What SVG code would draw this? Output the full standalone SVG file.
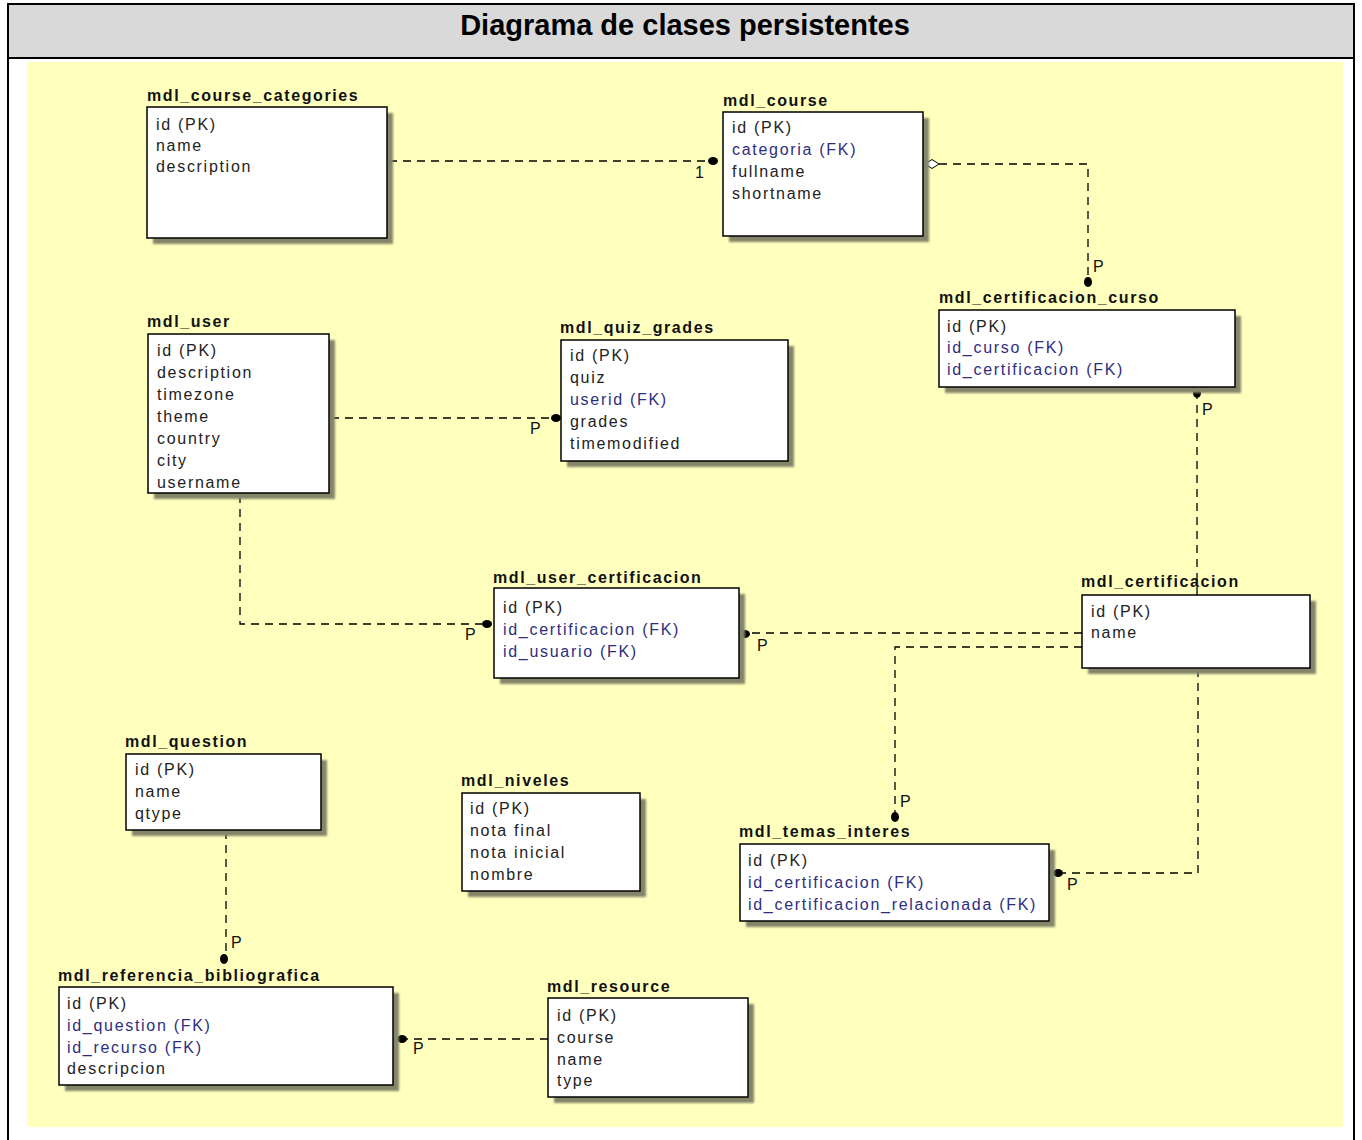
<svg xmlns="http://www.w3.org/2000/svg" width="1362" height="1140" viewBox="0 0 1362 1140">
<style>
.frame{fill:none;stroke:#000;stroke-width:2}
.head{font-family:"Liberation Sans",Arial,sans-serif;font-weight:bold;font-size:29px;fill:#000}
.title{font-family:"Liberation Sans",Arial,sans-serif;font-weight:bold;font-size:16px;letter-spacing:1.6px;fill:#111}
.row{font-family:"Liberation Sans",Arial,sans-serif;font-size:16px;letter-spacing:1.7px;fill:#222}
.fk{fill:#2e2e80}
.box{fill:#fff;stroke:#000;stroke-width:1.5}
.shadow{fill:#85856a}
.conn{fill:none;stroke:#000;stroke-width:1.3;stroke-dasharray:8 6}
.dot{fill:#000}
.lbl{font-family:"Liberation Sans",Arial,sans-serif;font-size:16px;fill:#111}
</style>
<defs>
<filter id="blur" x="-5%" y="-5%" width="110%" height="110%"><feGaussianBlur stdDeviation="1"/></filter>
</defs>
<rect x="0" y="0" width="1362" height="1140" fill="#fff"/>
<rect x="8" y="4" width="1346" height="54" fill="#d9d9d9"/>
<path class="frame" d="M8,1140 V4 H1354 V1140 M8,58 H1354"/>
<rect x="27" y="62" width="1316" height="1065" fill="#ffffbe"/>
<text class="head" x="685" y="35" text-anchor="middle">Diagrama de clases persistentes</text>

<g id="connectors">
<path class="conn" d="M389,161 H708"/>
<path class="conn" d="M939,164 H1088 V277"/>
<path class="conn" d="M1197,595 V398"/>
<path class="conn" d="M331,418 H551"/>
<path class="conn" d="M240,495 V624 H482"/>
<path class="conn" d="M1082,633 H750"/>
<path class="conn" d="M1082,647 H895 V812"/>
<path class="conn" d="M1198,669 V873 H1063"/>
<path class="conn" d="M226,831 V954"/>
<path class="conn" d="M548,1039 H407"/>
<ellipse class="dot" cx="713" cy="161" rx="5" ry="4"/>
<ellipse class="dot" cx="1088" cy="282" rx="4" ry="5"/>
<ellipse class="dot" cx="1197" cy="393" rx="4" ry="5"/>
<ellipse class="dot" cx="556" cy="418" rx="5" ry="4"/>
<ellipse class="dot" cx="487" cy="624" rx="5" ry="4"/>
<ellipse class="dot" cx="745" cy="634" rx="5" ry="4"/>
<ellipse class="dot" cx="895" cy="817" rx="4" ry="5"/>
<ellipse class="dot" cx="1058" cy="873" rx="5" ry="4"/>
<ellipse class="dot" cx="224" cy="959" rx="4" ry="5"/>
<ellipse class="dot" cx="402" cy="1039" rx="5" ry="4"/>
<path d="M925,164 L932,159.5 L939,164 L932,168.5 Z" fill="#fff" stroke="#000" stroke-width="1"/>
<text class="lbl" x="695" y="178">1</text>
<text class="lbl" x="1093" y="272">P</text>
<text class="lbl" x="1202" y="415">P</text>
<text class="lbl" x="530" y="434">P</text>
<text class="lbl" x="465" y="640">P</text>
<text class="lbl" x="757" y="651">P</text>
<text class="lbl" x="900" y="807">P</text>
<text class="lbl" x="1067" y="890">P</text>
<text class="lbl" x="231" y="948">P</text>
<text class="lbl" x="413" y="1054">P</text>
</g>

<g id="mdl_course_categories">
<rect class="shadow" x="153" y="113" width="240" height="131" filter="url(#blur)"/>
<rect class="box" x="147" y="107" width="240" height="131"/>
<text class="title" x="147" y="101">mdl_course_categories</text>
<text class="row" x="156" y="130">id (PK)</text>
<text class="row" x="156" y="151">name</text>
<text class="row" x="156" y="172">description</text>
</g>

<g id="mdl_course">
<rect class="shadow" x="729" y="118" width="200" height="124" filter="url(#blur)"/>
<rect class="box" x="723" y="112" width="200" height="124"/>
<text class="title" x="723" y="106">mdl_course</text>
<text class="row" x="732" y="133">id (PK)</text>
<text class="row fk" x="732" y="155">categoria (FK)</text>
<text class="row" x="732" y="177">fullname</text>
<text class="row" x="732" y="199">shortname</text>
</g>

<g id="mdl_certificacion_curso">
<rect class="shadow" x="945" y="316" width="296" height="77" filter="url(#blur)"/>
<rect class="box" x="939" y="310" width="296" height="77"/>
<text class="title" x="939" y="303">mdl_certificacion_curso</text>
<text class="row" x="947" y="332">id (PK)</text>
<text class="row fk" x="947" y="353">id_curso (FK)</text>
<text class="row fk" x="947" y="375">id_certificacion (FK)</text>
</g>

<g id="mdl_user">
<rect class="shadow" x="154" y="340" width="181" height="159" filter="url(#blur)"/>
<rect class="box" x="148" y="334" width="181" height="159"/>
<text class="title" x="147" y="327">mdl_user</text>
<text class="row" x="157" y="356">id (PK)</text>
<text class="row" x="157" y="378">description</text>
<text class="row" x="157" y="400">timezone</text>
<text class="row" x="157" y="422">theme</text>
<text class="row" x="157" y="444">country</text>
<text class="row" x="157" y="466">city</text>
<text class="row" x="157" y="488">username</text>
</g>

<g id="mdl_quiz_grades">
<rect class="shadow" x="567" y="346" width="227" height="121" filter="url(#blur)"/>
<rect class="box" x="561" y="340" width="227" height="121"/>
<text class="title" x="560" y="333">mdl_quiz_grades</text>
<text class="row" x="570" y="361">id (PK)</text>
<text class="row" x="570" y="383">quiz</text>
<text class="row fk" x="570" y="405">userid (FK)</text>
<text class="row" x="570" y="427">grades</text>
<text class="row" x="570" y="449">timemodified</text>
</g>

<g id="mdl_user_certificacion">
<rect class="shadow" x="500" y="594" width="245" height="90" filter="url(#blur)"/>
<rect class="box" x="494" y="588" width="245" height="90"/>
<text class="title" x="493" y="583">mdl_user_certificacion</text>
<text class="row" x="503" y="613">id (PK)</text>
<text class="row fk" x="503" y="635">id_certificacion (FK)</text>
<text class="row fk" x="503" y="657">id_usuario (FK)</text>
</g>

<g id="mdl_certificacion">
<rect class="shadow" x="1088" y="601" width="228" height="73" filter="url(#blur)"/>
<rect class="box" x="1082" y="595" width="228" height="73"/>
<text class="title" x="1081" y="587">mdl_certificacion</text>
<text class="row" x="1091" y="617">id (PK)</text>
<text class="row" x="1091" y="638">name</text>
</g>

<g id="mdl_question">
<rect class="shadow" x="132" y="760" width="195" height="76" filter="url(#blur)"/>
<rect class="box" x="126" y="754" width="195" height="76"/>
<text class="title" x="125" y="747">mdl_question</text>
<text class="row" x="135" y="775">id (PK)</text>
<text class="row" x="135" y="797">name</text>
<text class="row" x="135" y="819">qtype</text>
</g>

<g id="mdl_niveles">
<rect class="shadow" x="468" y="799" width="178" height="98" filter="url(#blur)"/>
<rect class="box" x="462" y="793" width="178" height="98"/>
<text class="title" x="461" y="786">mdl_niveles</text>
<text class="row" x="470" y="814">id (PK)</text>
<text class="row" x="470" y="836">nota final</text>
<text class="row" x="470" y="858">nota inicial</text>
<text class="row" x="470" y="880">nombre</text>
</g>

<g id="mdl_temas_interes">
<rect class="shadow" x="746" y="850" width="309" height="77" filter="url(#blur)"/>
<rect class="box" x="740" y="844" width="309" height="77"/>
<text class="title" x="739" y="837">mdl_temas_interes</text>
<text class="row" x="748" y="866">id (PK)</text>
<text class="row fk" x="748" y="888">id_certificacion (FK)</text>
<text class="row fk" x="748" y="910">id_certificacion_relacionada (FK)</text>
</g>

<g id="mdl_referencia_bibliografica">
<rect class="shadow" x="65" y="993" width="334" height="98" filter="url(#blur)"/>
<rect class="box" x="59" y="987" width="334" height="98"/>
<text class="title" x="58" y="981">mdl_referencia_bibliografica</text>
<text class="row" x="67" y="1009">id (PK)</text>
<text class="row fk" x="67" y="1031">id_question (FK)</text>
<text class="row fk" x="67" y="1053">id_recurso (FK)</text>
<text class="row" x="67" y="1074">descripcion</text>
</g>

<g id="mdl_resource">
<rect class="shadow" x="554" y="1004" width="200" height="99" filter="url(#blur)"/>
<rect class="box" x="548" y="998" width="200" height="99"/>
<text class="title" x="547" y="992">mdl_resource</text>
<text class="row" x="557" y="1021">id (PK)</text>
<text class="row" x="557" y="1043">course</text>
<text class="row" x="557" y="1065">name</text>
<text class="row" x="557" y="1086">type</text>
</g>
</svg>
